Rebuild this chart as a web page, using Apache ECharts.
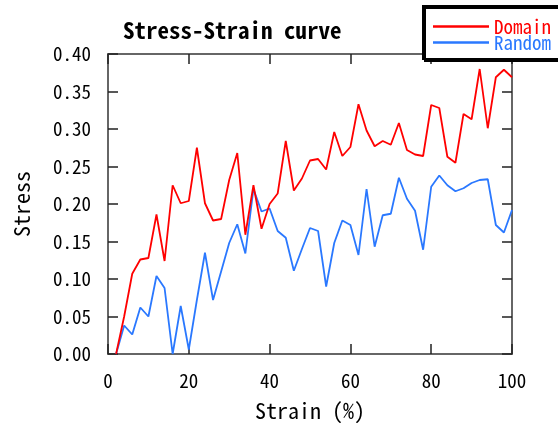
<!DOCTYPE html>
<html>
<head>
<meta charset="utf-8">
<script src="https://cdn.jsdelivr.net/npm/echarts@6/dist/echarts.min.js"></script>
<style>
html,body{margin:0;padding:0;background:#fff}
#main{width:558px;height:423px}
</style>
</head>
<body>
<div id="main"></div>
<script>
// 应变 (%)
let strain = [2, 4, 6, 8, 10, 12, 14, 16, 18, 20, 22, 24, 26, 28, 30, 32, 34, 36, 38, 40,
    42, 44, 46, 48, 50, 52, 54, 56, 58, 60, 62, 64, 66, 68, 70, 72, 74, 76, 78, 80,
    82, 84, 86, 88, 90, 92, 94, 96, 98, 100]

// Domain 曲线
let domain = [0, 0.05, 0.107, 0.126, 0.128, 0.186, 0.124, 0.225, 0.201, 0.204,
    0.275, 0.201, 0.178, 0.180, 0.232, 0.268, 0.159, 0.225, 0.167, 0.200,
    0.214, 0.284, 0.218, 0.234, 0.258, 0.260, 0.246, 0.296, 0.264, 0.276,
    0.333, 0.298, 0.277, 0.284, 0.279, 0.308, 0.272, 0.266, 0.264, 0.332,
    0.328, 0.263, 0.255, 0.320, 0.313, 0.380, 0.301, 0.369, 0.379, 0.369]

// Random 曲线
let random = [0, 0.038, 0.026, 0.062, 0.050, 0.104, 0.088, 0, 0.064, 0.006,
    0.072, 0.135, 0.072, 0.110, 0.148, 0.173, 0.134, 0.220, 0.190, 0.194,
    0.164, 0.155, 0.111, 0.140, 0.168, 0.164, 0.090, 0.148, 0.178, 0.172,
    0.132, 0.220, 0.143, 0.185, 0.187, 0.235, 0.207, 0.191, 0.139, 0.223,
    0.238, 0.225, 0.217, 0.221, 0.228, 0.232, 0.233, 0.172, 0.162, 0.192]

let seriesNames = ['Domain', 'Random']
let seriesColors = ['#ff0000', '#2a78ff']

let font = "'Noto Sans Mono CJK JP', 'DejaVu Sans Mono', monospace"

let chart = echarts.init(document.getElementById('main'))

function pairs(ys){
    return strain.map((x, i) => [x, ys[i]])
}

let axisLineStyle = { color: '#666', width: 2 }
let tickStyle = { color: '#222', width: 1.5 }

let option = {
    animation: false,
    title: {
        text: 'Stress-Strain curve',
        left: 118,
        top: 14,
        textStyle: {
            fontFamily: font,
            fontSize: 23,
            fontWeight: 'bold',
            color: '#000'
        }
    },
    legend: {
        orient: 'vertical',
        left: 423,
        top: 6,
        padding: [11, 12, 7, 10],
        itemGap: -3,
        itemWidth: 56,
        itemHeight: 2.5,
        icon: 'rect',
        backgroundColor: '#fff',
        borderColor: '#000',
        borderWidth: 2,
        borderRadius: 0,
        shadowColor: '#000',
        shadowBlur: 0,
        shadowOffsetX: 2,
        shadowOffsetY: 2,
        textStyle: { fontFamily: font, fontSize: 19 },
        data: [
            { name: seriesNames[0], textStyle: { color: seriesColors[0] } },
            { name: seriesNames[1], textStyle: { color: seriesColors[1] } }
        ]
    },
    grid: {
        left: 108,
        right: 46,
        top: 54,
        bottom: 69,
        outerBoundsMode: 'none'
    },
    xAxis: [
        {
            type: 'value',
            min: 0,
            max: 100,
            interval: 20,
            name: 'Strain (%)',
            nameLocation: 'middle',
            nameGap: 46,
            nameTextStyle: { fontFamily: font, fontSize: 22, color: '#000' },
            axisLine: { onZero: false, lineStyle: axisLineStyle },
            axisTick: { inside: true, length: 10, lineStyle: tickStyle },
            axisLabel: { fontFamily: font, fontSize: 19, color: '#000', margin: 17 },
            splitLine: { show: false }
        },
        {
            type: 'value',
            position: 'top',
            min: 0,
            max: 100,
            interval: 20,
            axisLine: { onZero: false, lineStyle: axisLineStyle },
            axisTick: { inside: true, length: 10, lineStyle: tickStyle },
            axisLabel: { show: false },
            splitLine: { show: false }
        }
    ],
    yAxis: [
        {
            type: 'value',
            min: 0,
            max: 0.4,
            interval: 0.05,
            name: 'Stress',
            nameLocation: 'middle',
            nameRotate: 90,
            nameGap: 75,
            nameTextStyle: { fontFamily: font, fontSize: 22, color: '#000' },
            axisLine: { show: true, onZero: false, lineStyle: axisLineStyle },
            axisTick: { show: true, inside: true, length: 10, lineStyle: tickStyle },
            axisLabel: {
                fontFamily: font,
                fontSize: 19,
                color: '#000',
                margin: 17,
                formatter: v => v.toFixed(2)
            },
            splitLine: { show: false }
        },
        {
            type: 'value',
            position: 'right',
            min: 0,
            max: 0.4,
            interval: 0.05,
            axisLine: { show: true, onZero: false, lineStyle: axisLineStyle },
            axisTick: { show: true, inside: true, length: 10, lineStyle: tickStyle },
            axisLabel: { show: false },
            splitLine: { show: false }
        }
    ],
    series: [
        {
            name: seriesNames[0],
            type: 'line',
            data: pairs(domain),
            showSymbol: false,
            symbol: 'none',
            clip: true,
            lineStyle: { color: seriesColors[0], width: 1.8 },
            itemStyle: { color: seriesColors[0] },
            z: 3
        },
        {
            name: seriesNames[1],
            type: 'line',
            data: pairs(random),
            showSymbol: false,
            symbol: 'none',
            clip: true,
            lineStyle: { color: seriesColors[1], width: 1.8 },
            itemStyle: { color: seriesColors[1] },
            z: 2
        }
    ]
}

chart.setOption(option)
</script>
</body>
</html>
